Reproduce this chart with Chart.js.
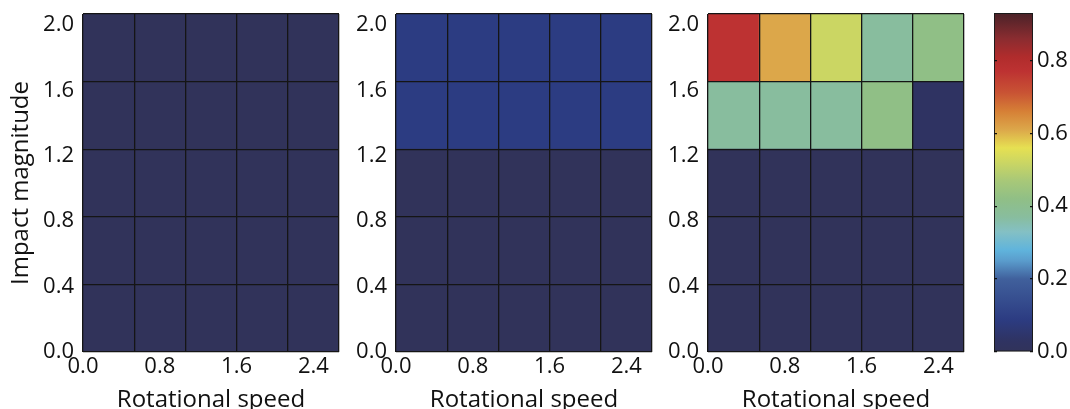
<!DOCTYPE html>
<html>
<head>
<meta charset="utf-8">
<script src="https://cdn.jsdelivr.net/npm/chart.js@4/dist/chart.umd.min.js"></script>
<style>
  body { margin: 0; background: #fff; width: 1070px; height: 409px; overflow: hidden; position: relative; }
  canvas { position: absolute; top: 0; }
</style>
</head>
<body>
<canvas id="panel1" width="342" height="409" style="left:0px"></canvas>
<canvas id="panel2" width="342" height="409" style="left:313px"></canvas>
<canvas id="panel3" width="342" height="409" style="left:625px"></canvas>
<canvas id="colorbar" width="80" height="409" style="left:990px"></canvas>
<script>
// 网格: 5 列 (转速) x 5 行 (冲击幅度)
const columns = ['c1', 'c2', 'c3', 'c4', 'c5'];
const rowEdges = [0.0, 0.4, 0.8, 1.2, 1.6, 2.0];
const xMax = 2.667;
const xTicks = [0.0, 0.8, 1.6, 2.4];
const yTicks = [0.0, 0.4, 0.8, 1.2, 1.6, 2.0];
const yLabelMax = 2.067;

// 每个面板的数值, 从下往上一行一行
const panel1Values = [
    [0, 0, 0, 0, 0],
    [0, 0, 0, 0, 0],
    [0, 0, 0, 0, 0],
    [0, 0, 0, 0, 0],
    [0, 0, 0, 0, 0]
];
const panel2Values = [
    [0, 0, 0, 0, 0],
    [0, 0, 0, 0, 0],
    [0, 0, 0, 0, 0],
    [0.09, 0.09, 0.09, 0.09, 0.09],
    [0.09, 0.09, 0.09, 0.09, 0.09]
];
const panel3Values = [
    [0, 0, 0, 0, 0],
    [0, 0, 0, 0, 0],
    [0, 0, 0, 0, 0],
    [0.37, 0.37, 0.37, 0.42, 0.03],
    [0.77, 0.61, 0.52, 0.37, 0.42]
];

// 色标
const cbMax = 0.93;
const cbTicks = [0.0, 0.2, 0.4, 0.6, 0.8];
const cmapStops = [0.00, 0.03, 0.09, 0.20, 0.25, 0.28, 0.33, 0.37, 0.42, 0.47, 0.52, 0.56, 0.61, 0.66, 0.71, 0.77, 0.81, 0.86, 0.93];
const cmapColors = ['#31335a', '#2f3362', '#2c3c82', '#40609c', '#5a9ccc', '#60b4dc', '#84c0c4', '#88bd9e', '#90bf86',
    '#a8c878', '#cbd663', '#e6e052', '#dca74a', '#d68036', '#c95434', '#bd3232', '#b02c2c', '#8a2c30', '#4a2228'];

const FONT = { family: "'Open Sans', sans-serif", size: 22 };
const TITLE_FONT = { family: "'Open Sans', sans-serif", size: 24 };
const TEXT_COLOR = '#111';
const LINE_COLOR = '#151515';

function hexToRgb(h) {
    return [parseInt(h.slice(1, 3), 16), parseInt(h.slice(3, 5), 16), parseInt(h.slice(5, 7), 16)];
}

// 按色标插值取颜色
function colorFor(v) {
    if (v <= cmapStops[0]) return cmapColors[0];
    for (let i = 1; i < cmapStops.length; i++) {
        if (v <= cmapStops[i]) {
            const t = (v - cmapStops[i - 1]) / (cmapStops[i] - cmapStops[i - 1]);
            const a = hexToRgb(cmapColors[i - 1]);
            const b = hexToRgb(cmapColors[i]);
            const c = a.map((x, k) => Math.round(x + (b[k] - x) * t));
            return 'rgb(' + c.join(',') + ')';
        }
    }
    return cmapColors[cmapColors.length - 1];
}

function fixedSize(size, horizontal) {
    return function (scale) {
        if (horizontal) scale.height = size; else scale.width = size;
        scale.paddingTop = 0;
        scale.paddingBottom = 0;
        scale.paddingLeft = 0;
        scale.paddingRight = 0;
    };
}

function setTicks(list) {
    return function (scale) {
        scale.ticks = list.map(v => ({ value: v }));
    };
}

function renderPanel(id, values, showYTitle) {
    const datasets = values.map((row, r) => ({
        data: row.map(() => rowEdges[r + 1] - rowEdges[r]),
        backgroundColor: row.map(v => colorFor(v)),
        borderWidth: 0,
        barPercentage: 1,
        categoryPercentage: 1
    }));

    new Chart(document.getElementById(id), {
        type: 'bar',
        data: { labels: columns, datasets: datasets },
        options: {
            responsive: false,
            animation: false,
            layout: { padding: { top: 14, right: 3, bottom: 0, left: 0 } },
            plugins: { legend: { display: false }, tooltip: { enabled: false } },
            scales: {
                x: {
                    stacked: true,
                    ticks: { display: false },
                    grid: { offset: true, color: LINE_COLOR, lineWidth: 1.3, z: 1, drawTicks: false },
                    border: { display: false },
                    afterFit: fixedSize(0, true)
                },
                xl: {
                    type: 'linear',
                    position: 'bottom',
                    offset: false,
                    min: 0,
                    max: xMax,
                    grid: { display: false, drawTicks: false },
                    border: { display: false },
                    ticks: { font: FONT, color: TEXT_COLOR, padding: 2, callback: v => v.toFixed(1) },
                    afterBuildTicks: setTicks(xTicks),
                    title: { display: true, text: 'Rotational speed', font: TITLE_FONT, color: TEXT_COLOR, padding: { top: 0, bottom: -6 } },
                    afterFit: fixedSize(57, true)
                },
                y: {
                    stacked: true,
                    min: 0,
                    max: 2.0,
                    ticks: { display: false },
                    afterBuildTicks: setTicks(yTicks),
                    grid: { color: LINE_COLOR, lineWidth: 1.3, z: 1, drawTicks: false },
                    border: { display: false },
                    afterFit: fixedSize(0, false)
                },
                yl: {
                    type: 'linear',
                    position: 'left',
                    offset: false,
                    min: 0,
                    max: yLabelMax,
                    grid: { display: false, drawTicks: false },
                    border: { display: false },
                    ticks: { font: FONT, color: TEXT_COLOR, padding: 9, callback: v => v.toFixed(1) },
                    afterBuildTicks: setTicks(yTicks),
                    title: { display: showYTitle, text: 'Impact magnitude', font: TITLE_FONT, color: TEXT_COLOR, padding: { top: 7, bottom: 0 } },
                    afterFit: fixedSize(83, false)
                }
            }
        }
    });
}

function renderColorbar() {
    new Chart(document.getElementById('colorbar'), {
        type: 'bar',
        data: {
            labels: [''],
            datasets: [{
                data: [cbMax],
                backgroundColor: function (context) {
                    const chart = context.chart;
                    if (!chart.chartArea) return cmapColors[0];
                    const ys = chart.scales.y;
                    const g = chart.ctx.createLinearGradient(0, ys.getPixelForValue(0), 0, ys.getPixelForValue(cbMax));
                    cmapStops.forEach((s, i) => g.addColorStop(s / cbMax, cmapColors[i]));
                    return g;
                },
                borderColor: '#1a1a1a',
                borderWidth: 1.3,
                borderSkipped: false,
                barPercentage: 1,
                categoryPercentage: 1
            }]
        },
        options: {
            responsive: false,
            animation: false,
            layout: { padding: { top: 13, right: 0, bottom: 57, left: 4 } },
            plugins: { legend: { display: false }, tooltip: { enabled: false } },
            scales: {
                x: { display: false },
                y: {
                    position: 'right',
                    min: 0,
                    max: cbMax,
                    afterBuildTicks: setTicks(cbTicks),
                    grid: { color: '#111', lineWidth: 1.3, z: 1, drawTicks: false },
                    border: { display: false, dash: [3, 33] },
                    ticks: { font: FONT, color: TEXT_COLOR, padding: 4, callback: v => v.toFixed(1) },
                    afterFit: fixedSize(37, false)
                }
            }
        }
    });
}

renderPanel('panel1', panel1Values, true);
renderPanel('panel2', panel2Values, false);
renderPanel('panel3', panel3Values, false);
renderColorbar();
</script>
</body>
</html>
